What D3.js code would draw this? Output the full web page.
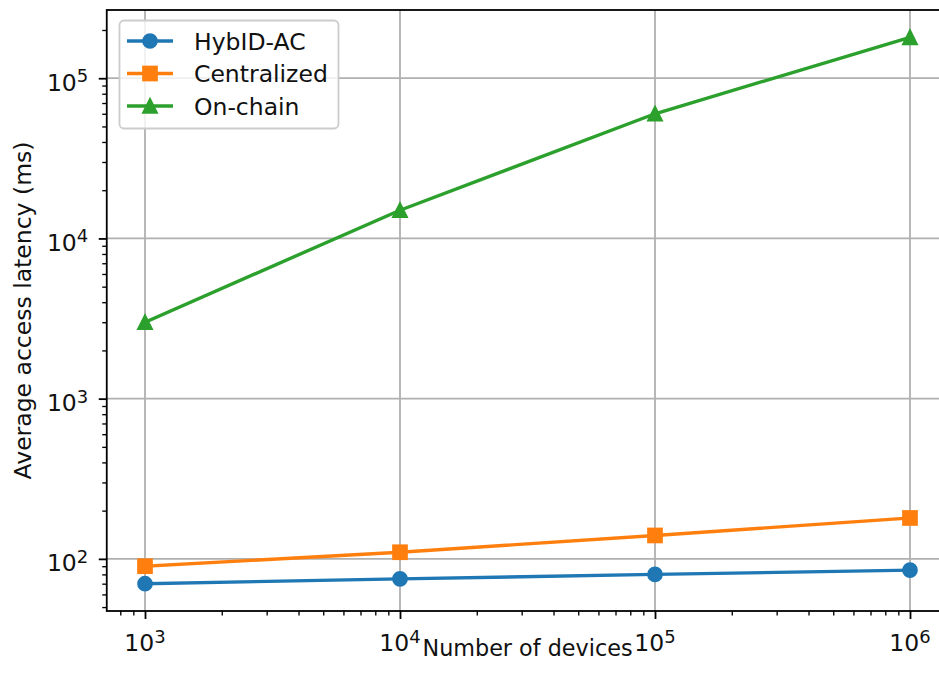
<!DOCTYPE html>
<html>
<head>
<meta charset="utf-8">
<script src="https://cdn.jsdelivr.net/npm/d3@7"></script>
<style>
  html, body { margin: 0; padding: 0; background: #fff; }
  svg { display: block; font-family: "DejaVu Sans", sans-serif; }
</style>
</head>
<body>
<svg id="chart" width="939" height="686"></svg>
<script>
// ---- data ----
const devices = [1e3, 1e4, 1e5, 1e6];
const hybid = [70, 75, 80, 85];
const centralized = [90, 110, 140, 180];
const onchain = [3000, 15000, 60000, 180000];
const seriesNames = ["HybID-AC", "Centralized", "On-chain"];
const seriesColors = ["#1f77b4", "#ff7f0e", "#2ca02c"];
const seriesMarkers = ["circle", "square", "triangle"];
const xTickValues = [1e3, 1e4, 1e5, 1e6];
const xTickExps = ["3", "4", "5", "6"];
const yTickValues = [1e2, 1e3, 1e4, 1e5];
const yTickExps = ["2", "3", "4", "5"];
const xLabel = "Number of devices";
const yLabel = "Average access latency (ms)";

const series = [hybid, centralized, onchain];

// ---- layout ----
const svg = d3.select("#chart");
const L = 106.75, R = 948.25, T = 10, B = 611;
const fs = 23.5, fsSup = 18, fsXLabel = 22.3;
const textColor = "#111";

function logPad(lo, hi) {
  const a = Math.log10(lo), b = Math.log10(hi), m = 0.05 * (b - a);
  return [Math.pow(10, a - m), Math.pow(10, b + m)];
}
const allY = series.flat();
const x = d3.scaleLog().domain(logPad(d3.min(devices), d3.max(devices))).range([L, R]);
const y = d3.scaleLog().domain(logPad(d3.min(allY), d3.max(allY))).range([B, T]);

function minorTicks(scale) {
  const [d0, d1] = scale.domain();
  const out = [];
  for (let e = Math.floor(Math.log10(d0)); e <= Math.ceil(Math.log10(d1)); e++) {
    for (let k = 2; k <= 9; k++) {
      const v = k * Math.pow(10, e);
      if (v >= d0 && v <= d1) out.push(v);
    }
  }
  return out;
}

// grid
const grid = svg.append("g");
grid.selectAll("line.gx").data(xTickValues).enter().append("line")
  .attr("x1", d => x(d)).attr("x2", d => x(d)).attr("y1", T).attr("y2", B)
  .attr("stroke", "#b0b0b0").attr("stroke-width", 1.8);
grid.selectAll("line.gy").data(yTickValues).enter().append("line")
  .attr("y1", d => y(d)).attr("y2", d => y(d)).attr("x1", L).attr("x2", R)
  .attr("stroke", "#b0b0b0").attr("stroke-width", 1.8);

// lines + markers
const line = d3.line().x((d, i) => x(devices[i])).y(d => y(d));
const ms = 13.5;
function drawMarker(g, cx, cy, type, color) {
  const h = ms / 2;
  let el;
  if (type === "circle") {
    el = g.append("circle").attr("cx", cx).attr("cy", cy).attr("r", h);
  } else if (type === "square") {
    el = g.append("rect").attr("x", cx - h).attr("y", cy - h).attr("width", ms).attr("height", ms);
  } else {
    el = g.append("path").attr("d", `M${cx},${cy - h}L${cx - h},${cy + h}L${cx + h},${cy + h}Z`);
  }
  el.attr("fill", color).attr("stroke", color).attr("stroke-width", 2.2).attr("stroke-linejoin", "miter");
}
series.forEach((vals, si) => {
  const g = svg.append("g");
  g.append("path").datum(vals).attr("d", line)
    .attr("fill", "none").attr("stroke", seriesColors[si]).attr("stroke-width", 3.4)
    .attr("stroke-linejoin", "round").attr("stroke-linecap", "square");
  vals.forEach((v, i) => drawMarker(g, x(devices[i]), y(v), seriesMarkers[si], seriesColors[si]));
});

// axes frame
svg.append("rect").attr("x", L).attr("y", T).attr("width", R - L).attr("height", B - T)
  .attr("fill", "none").attr("stroke", "#000").attr("stroke-width", 1.8);

// x axis
const xg = svg.append("g").attr("transform", `translate(0,${B})`)
  .call(d3.axisBottom(x).tickValues(xTickValues).tickSize(8).tickFormat(""));
const xgm = svg.append("g").attr("transform", `translate(0,${B})`)
  .call(d3.axisBottom(x).tickValues(minorTicks(x)).tickSize(4.5).tickFormat(""));
[xg, xgm].forEach(g => { g.select(".domain").remove(); g.selectAll("line").attr("stroke", "#000"); });
xg.selectAll("line").attr("stroke-width", 1.8);
xgm.selectAll("line").attr("stroke-width", 1.35);

xTickValues.forEach((v, i) => {
  const t = svg.append("text").attr("x", x(v)).attr("y", B + 40).attr("text-anchor", "middle")
    .attr("font-size", fs).attr("fill", textColor);
  t.append("tspan").text("10");
  t.append("tspan").attr("dy", -8.5).attr("font-size", fsSup).text(xTickExps[i]);
});

// y axis
const yg = svg.append("g").attr("transform", `translate(${L},0)`)
  .call(d3.axisLeft(y).tickValues(yTickValues).tickSize(8).tickFormat(""));
const ygm = svg.append("g").attr("transform", `translate(${L},0)`)
  .call(d3.axisLeft(y).tickValues(minorTicks(y)).tickSize(4.5).tickFormat(""));
[yg, ygm].forEach(g => { g.select(".domain").remove(); g.selectAll("line").attr("stroke", "#000"); });
yg.selectAll("line").attr("stroke-width", 1.8);
ygm.selectAll("line").attr("stroke-width", 1.35);

yTickValues.forEach((v, i) => {
  const t = svg.append("text").attr("x", L - 18.5).attr("y", y(v) + 12.5).attr("text-anchor", "end")
    .attr("font-size", fs).attr("fill", textColor);
  t.append("tspan").text("10");
  t.append("tspan").attr("dy", -8.5).attr("font-size", fsSup).text(yTickExps[i]);
});

// axis labels
svg.append("text").attr("x", (L + R) / 2).attr("y", 656).attr("text-anchor", "middle")
  .attr("font-size", fsXLabel).attr("fill", textColor).text(xLabel);
svg.append("text").attr("transform", `translate(30.5,${(T + B) / 2}) rotate(-90)`)
  .attr("text-anchor", "middle").attr("font-size", fs).attr("fill", textColor).text(yLabel);

// legend
const lg = svg.append("g");
lg.append("rect").attr("x", 119.5).attr("y", 20.5).attr("width", 219).attr("height", 108)
  .attr("rx", 4.5).attr("fill", "#fff").attr("fill-opacity", 0.8)
  .attr("stroke", "#cccccc").attr("stroke-width", 1.8);
const rowY = [41, 73.5, 106];
seriesNames.forEach((name, i) => {
  const cy = rowY[i];
  lg.append("line").attr("x1", 127).attr("x2", 173).attr("y1", cy).attr("y2", cy)
    .attr("stroke", seriesColors[i]).attr("stroke-width", 3.4);
  drawMarker(lg, 150, cy, seriesMarkers[i], seriesColors[i]);
  lg.append("text").attr("x", 194).attr("y", cy + 8.5).attr("font-size", fs).attr("fill", textColor).text(name);
});
</script>
</body>
</html>
